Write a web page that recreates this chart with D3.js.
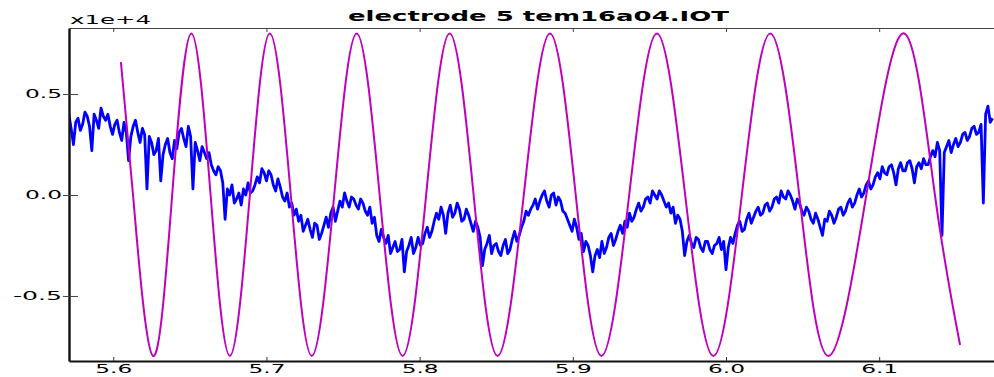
<!DOCTYPE html>
<html>
<head>
<meta charset="utf-8">
<script src="https://cdn.jsdelivr.net/npm/d3@7"></script>
<style>
  body { margin: 0; background: #fff; }
  svg { display: block; }
</style>
</head>
<body>
<svg id="chart"></svg>
<script>
// data (values in units of 1e4)
const titleText = "electrode 5 tem16a04.IOT";
const exponentLabel = "x1e+4";
const xTicks = [5.6, 5.7, 5.8, 5.9, 6.0, 6.1];
const yTicks = [-0.5, 0.0, 0.5];

// blue trace, sampled every 0.0015 from 5.571
const blueStart = 5.571;
const blueStep = 0.0015;
const blueValues = [
  0.40, 0.33, 0.25, 0.36, 0.38, 0.32, 0.35, 0.41, 0.39, 0.34, 0.22, 0.40, 0.37, 0.33, 0.43, 0.39, 0.37, 0.40, 0.34,
  0.30, 0.35, 0.37, 0.31, 0.27, 0.36, 0.31, 0.17, 0.29, 0.34, 0.37, 0.31, 0.26, 0.33, 0.30, 0.03, 0.29, 0.26, 0.20, 0.22,
  0.28, 0.07, 0.20, 0.25, 0.28, 0.21, 0.18, 0.27, 0.23, 0.31, 0.33, 0.28, 0.24, 0.34, 0.29, 0.03, 0.26, 0.22, 0.17, 0.24,
  0.21, 0.18, 0.21, 0.15, 0.12, 0.10, 0.14, 0.12, 0.06, -0.12, 0.03, 0.00, 0.05, -0.04, -0.02, 0.01, -0.05, 0.03, 0.00, 0.06,
  0.01, 0.02, 0.05, 0.09, 0.06, 0.13, 0.11, 0.07, 0.12, 0.10, 0.05, 0.02, 0.08, 0.04, -0.01, -0.03, 0.01, -0.06, -0.04, -0.10,
  -0.07, -0.13, -0.10, -0.18, -0.15, -0.12, -0.17, -0.21, -0.14, -0.15, -0.22, -0.19, -0.15, -0.11, -0.16, -0.09, -0.06, -0.13, -0.08, -0.03,
  -0.06, 0.01, -0.03, -0.06, -0.01, -0.02, -0.05, -0.07, -0.02, -0.04, -0.08, -0.10, -0.06, -0.14, -0.11, -0.20, -0.23, -0.17, -0.21, -0.24,
  -0.20, -0.29, -0.26, -0.23, -0.28, -0.27, -0.22, -0.38, -0.28, -0.25, -0.21, -0.29, -0.26, -0.21, -0.25, -0.24, -0.19, -0.16, -0.21, -0.18,
  -0.13, -0.09, -0.12, -0.06, -0.10, -0.19, -0.09, -0.05, -0.11, -0.09, -0.04, -0.07, -0.13, -0.12, -0.07, -0.10, -0.14, -0.18, -0.13, -0.16,
  -0.21, -0.35, -0.27, -0.24, -0.20, -0.29, -0.25, -0.24, -0.28, -0.30, -0.25, -0.22, -0.29, -0.27, -0.22, -0.18, -0.23, -0.20, -0.16, -0.13,
  -0.08, -0.10, -0.07, -0.05, -0.02, -0.07, -0.03, 0.00, 0.02, -0.03, -0.06, 0.00, 0.01, -0.05, -0.01, -0.03, -0.08, -0.09, -0.12, -0.15,
  -0.18, -0.12, -0.16, -0.22, -0.19, -0.28, -0.23, -0.25, -0.30, -0.38, -0.30, -0.27, -0.31, -0.23, -0.29, -0.26, -0.21, -0.19, -0.25, -0.22,
  -0.18, -0.15, -0.19, -0.13, -0.16, -0.09, -0.13, -0.11, -0.07, -0.04, -0.08, -0.06, -0.02, -0.01, -0.04, 0.02, 0.00, -0.02, 0.02, 0.00,
  -0.03, -0.06, -0.04, -0.09, -0.06, -0.14, -0.10, -0.12, -0.18, -0.30, -0.23, -0.20, -0.24, -0.26, -0.21, -0.22, -0.26, -0.28, -0.23, -0.23,
  -0.27, -0.29, -0.25, -0.24, -0.21, -0.27, -0.23, -0.37, -0.26, -0.21, -0.24, -0.19, -0.15, -0.13, -0.18, -0.17, -0.12, -0.09, -0.14, -0.11,
  -0.08, -0.06, -0.10, -0.09, -0.05, -0.04, -0.08, -0.06, -0.02, -0.01, -0.04, 0.02, -0.01, -0.02, 0.02, 0.00, -0.03, -0.07, -0.02, -0.04,
  -0.08, -0.10, -0.06, -0.08, -0.12, -0.14, -0.09, -0.12, -0.16, -0.20, -0.12, -0.13, -0.08, -0.10, -0.14, -0.11, -0.07, -0.06, -0.10, -0.08,
  -0.04, -0.02, -0.06, -0.04, 0.00, 0.03, -0.01, 0.01, 0.05, 0.07, 0.03, 0.05, 0.09, 0.11, 0.08, 0.14, 0.11, 0.10, 0.14, 0.15,
  0.11, 0.05, 0.13, 0.16, 0.12, 0.12, 0.16, 0.17, 0.13, 0.06, 0.14, 0.16, 0.13, 0.18, 0.15, 0.15, 0.19, 0.22, 0.19, 0.26,
  0.22, -0.20, 0.21, 0.24, 0.27, 0.21, 0.25, 0.28, 0.24, 0.26, 0.30, 0.31, 0.27, 0.29, 0.33, 0.34, 0.30, 0.31, 0.35, -0.04,
  0.40, 0.44, 0.36, 0.38
];

// magenta trace: extrema and zero crossings
const magentaTimes = [
  5.6050, 5.6129, 5.6259, 5.63845, 5.6510, 5.66355, 5.6761, 5.68915,
  5.7022, 5.7159, 5.7296, 5.74425, 5.7589, 5.7739, 5.7889, 5.80425,
  5.8196, 5.83525, 5.8509, 5.8680, 5.8851, 5.9019, 5.9187, 5.9368,
  5.9549, 5.97335, 5.9918, 6.01035, 6.0289, 6.04785, 6.0668, 6.0916,
  6.1164, 6.1364, 6.1528
];
const magentaValues = [
  0.658, 0.0, -0.797, 0.0, 0.800, 0.0, -0.797, 0.0,
  0.800, 0.0, -0.797, 0.0, 0.800, 0.0, -0.797, 0.0,
  0.800, 0.0, -0.797, 0.0, 0.800, 0.0, -0.797, 0.0,
  0.800, 0.0, -0.797, 0.0, 0.800, 0.0, -0.797, 0.0,
  0.800, 0.0, -0.743
];

const width = 994;
const height = 377;
const margin = { top: 28, right: -14, bottom: 16, left: 69 };

const svg = d3.select("#chart").attr("width", width).attr("height", height);

const x = d3.scaleLinear()
  .domain([5.5711, 6.1841])
  .range([margin.left, width - margin.right]);
const y = d3.scaleLinear()
  .domain([-0.822, 0.827])
  .range([height - margin.bottom, margin.top]);

const blue = blueValues.map((v, i) => ({ t: blueStart + i * blueStep, v: v }));
const magenta = magentaTimes.map((t, i) => ({ t: t, v: magentaValues[i] }));

svg.append("clipPath").attr("id", "plot-clip")
  .append("rect")
  .attr("x", margin.left).attr("y", margin.top)
  .attr("width", x.range()[1] - margin.left)
  .attr("height", y.range()[0] - margin.top);

const plot = svg.append("g").attr("clip-path", "url(#plot-clip)");

plot.append("path")
  .datum(blue)
  .attr("fill", "none")
  .attr("stroke", "#0000ff")
  .attr("stroke-width", 2.8)
  .attr("stroke-linejoin", "round")
  .attr("d", d3.line().x(d => x(d.t)).y(d => y(d.v)));

plot.append("path")
  .datum(magenta)
  .attr("fill", "none")
  .attr("stroke", "#bf00bf")
  .attr("stroke-width", 2)
  .attr("d", d3.line().curve(d3.curveNatural).x(d => x(d.t)).y(d => y(d.v)));

// axes
const fmt = d => d3.format(".1f")(d).replace("\u2212", "-");
const stretch = s => (s.length > 3 ? 49 : 37);

const xAxis = svg.append("g")
  .attr("transform", "translate(0," + y.range()[0] + ")")
  .call(d3.axisBottom(x).tickValues(xTicks).tickFormat(fmt).tickSizeInner(-4).tickSizeOuter(0));
xAxis.select(".domain").attr("stroke", "#111").attr("stroke-width", 2.2);
xAxis.selectAll(".tick line").attr("stroke", "#333");
xAxis.selectAll(".tick text")
  .attr("y", 3)
  .attr("font-family", "DejaVu Sans, sans-serif")
  .attr("font-size", 12)
  .attr("fill", "#000")
  .attr("textLength", d => stretch(fmt(d)))
  .attr("lengthAdjust", "spacingAndGlyphs");

const topAxis = svg.append("g")
  .attr("transform", "translate(0," + margin.top + ")")
  .call(d3.axisTop(x).tickValues(xTicks).tickFormat("").tickSizeInner(-4).tickSizeOuter(0));
topAxis.select(".domain").attr("stroke", "#444").attr("stroke-width", 1.2);
topAxis.selectAll(".tick line").attr("stroke", "#444");

const yAxis = svg.append("g")
  .attr("transform", "translate(" + margin.left + ",0)")
  .call(d3.axisLeft(y).tickValues(yTicks).tickFormat(fmt).tickSizeInner(6).tickSizeOuter(0));
yAxis.select(".domain").attr("stroke", "#111").attr("stroke-width", 2.4);
yAxis.selectAll(".tick line").attr("x1", -6).attr("x2", 9).attr("stroke", "#444");
yAxis.selectAll(".tick text")
  .attr("x", -7)
  .attr("font-family", "DejaVu Sans, sans-serif")
  .attr("font-size", 12)
  .attr("fill", "#000")
  .attr("textLength", d => stretch(fmt(d)))
  .attr("lengthAdjust", "spacingAndGlyphs");

svg.append("text")
  .attr("x", 70).attr("y", 24)
  .attr("font-family", "DejaVu Sans, sans-serif")
  .attr("font-size", 13)
  .attr("textLength", 81)
  .attr("lengthAdjust", "spacingAndGlyphs")
  .text(exponentLabel);

svg.append("text")
  .attr("x", 348).attr("y", 21)
  .attr("font-family", "DejaVu Sans, sans-serif")
  .attr("font-size", 14)
  .attr("font-weight", "bold")
  .attr("textLength", 381)
  .attr("lengthAdjust", "spacingAndGlyphs")
  .text(titleText);
</script>
</body>
</html>
